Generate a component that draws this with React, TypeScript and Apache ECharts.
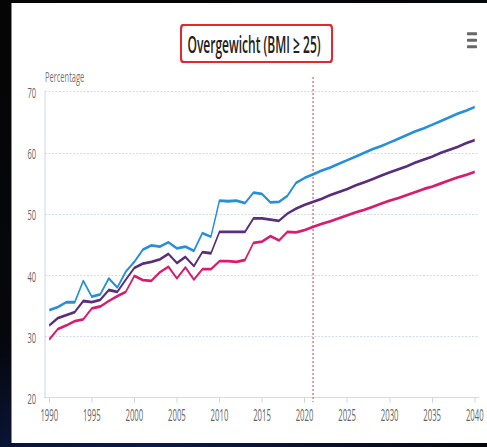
import React, { useEffect, useRef } from "react";
import * as echarts from "echarts";

const years = [
  "1990", "1991", "1992", "1993", "1994", "1995", "1996", "1997", "1998", "1999",
  "2000", "2001", "2002", "2003", "2004", "2005", "2006", "2007", "2008", "2009",
  "2010", "2011", "2012", "2013", "2014", "2015", "2016", "2017", "2018", "2019",
  "2020", "2021", "2022", "2023", "2024", "2025", "2026", "2027", "2028", "2029",
  "2030", "2031", "2032", "2033", "2034", "2035", "2036", "2037", "2038", "2039",
  "2040",
];

const mannen = [
  34.3, 34.8, 35.6, 35.6, 39.1, 36.5, 36.9, 39.5, 38.0, 40.6,
  42.2, 44.2, 44.9, 44.7, 45.4, 44.4, 44.7, 44.0, 46.9, 46.3,
  52.2, 52.1, 52.2, 51.8, 53.5, 53.3, 51.9, 52.0, 53.0, 55.1,
  55.9, 56.5, 57.1, 57.6, 58.2, 58.8, 59.4, 60.0, 60.6, 61.1,
  61.7, 62.3, 62.9, 63.5, 64.0, 64.6, 65.2, 65.8, 66.4, 66.9,
  67.5,
];

const totaal = [
  31.8, 33.0, 33.5, 34.0, 35.8, 35.6, 36.0, 37.6, 37.3, 39.3,
  41.2, 41.9, 42.2, 42.6, 43.5, 42.0, 43.0, 41.5, 43.8, 43.6,
  47.1, 47.1, 47.1, 47.1, 49.3, 49.3, 49.1, 48.9, 50.1, 50.9,
  51.5, 52.0, 52.5, 53.1, 53.6, 54.1, 54.7, 55.2, 55.7, 56.3,
  56.8, 57.3, 57.8, 58.4, 58.9, 59.4, 60.0, 60.5, 61.0, 61.6,
  62.1,
];

const vrouwen = [
  29.5, 31.2, 31.8, 32.5, 32.8, 34.6, 34.9, 35.8, 36.6, 37.3,
  39.9, 39.2, 39.1, 40.5, 41.4, 39.5, 41.3, 39.3, 41.0, 41.0,
  42.3, 42.3, 42.2, 42.5, 45.3, 45.5, 46.4, 45.7, 47.1, 47.0,
  47.4, 47.9, 48.4, 48.8, 49.3, 49.8, 50.3, 50.7, 51.2, 51.7,
  52.2, 52.6, 53.1, 53.6, 54.1, 54.5, 55.0, 55.5, 56.0, 56.4,
  56.9,
];

const yMin = 20;
const yMax = 70;
const yStep = 10;
const titleText = "Overgewicht (BMI ≥ 25)";
const yAxisName = "Percentage";
const splitYear = "2021";

const FONT = "'Open Sans', 'Noto Sans', sans-serif";

export default function App() {
  const ref = useRef<HTMLDivElement>(null);

  useEffect(() => {
    document.body.style.margin = "0";
    const chart = echarts.init(ref.current as HTMLDivElement, null, { renderer: "svg" });
    const axisColor = "#ccd6eb";
    chart.setOption({
      animation: false,
      textStyle: { fontFamily: FONT },
      grid: { left: 90, right: 16, top: 91.7, bottom: 49.3 },
      xAxis: {
        type: "category",
        data: years,
        boundaryGap: true,
        axisLine: { show: true, lineStyle: { color: axisColor, width: 1 } },
        axisTick: {
          show: true,
          interval: 4,
          alignWithLabel: true,
          length: 5,
          lineStyle: { color: axisColor, width: 2 },
        },
        axisLabel: { interval: 4, margin: 10, color: "#666", fontSize: 15.5, fontFamily: FONT },
        splitLine: { show: false },
      },
      yAxis: {
        type: "value",
        min: yMin,
        max: yMax,
        interval: yStep,
        name: yAxisName,
        nameLocation: "end",
        nameGap: 16,
        nameTextStyle: {
          align: "left",
          verticalAlign: "middle",
          color: "#777",
          fontSize: 15,
          fontFamily: FONT,
        },
        axisLine: { show: true, lineStyle: { color: axisColor, width: 2 } },
        axisTick: { show: false },
        axisLabel: { margin: 18, color: "#666", fontSize: 15, fontFamily: FONT },
        splitLine: { show: true, lineStyle: { color: "#c3d1e6", type: [4, 3], width: 1 } },
      },
      graphic: {
        elements: [
          {
            id: "titleBorder",
            type: "rect",
            shape: { x: 360, y: 24, width: 306, height: 39, r: 5 },
            style: { fill: "#e8262d" },
            z: 10,
          },
          {
            id: "titleInner",
            type: "rect",
            shape: { x: 364, y: 26, width: 298, height: 35, r: 4 },
            style: { fill: "#ffffff" },
            z: 11,
          },
          {
            id: "titleText",
            type: "text",
            x: 508,
            y: 44,
            style: {
              text: titleText,
              fill: "#222222",
              font: `600 24px ${FONT}`,
              textAlign: "center",
              textVerticalAlign: "middle",
            },
            z: 12,
          },
          {
            id: "menu1",
            type: "rect",
            shape: { x: 934, y: 32.3, width: 20, height: 3, r: 1 },
            style: { fill: "#666" },
          },
          {
            id: "menu2",
            type: "rect",
            shape: { x: 934, y: 38.8, width: 20, height: 3, r: 1 },
            style: { fill: "#666" },
          },
          {
            id: "menu3",
            type: "rect",
            shape: { x: 934, y: 45.3, width: 20, height: 3, r: 1 },
            style: { fill: "#666" },
          },
        ],
      },
      series: [
        {
          name: "Mannen",
          type: "line",
          data: mannen,
          symbol: "none",
          lineStyle: { color: "#258fd9", width: 2.8 },
          itemStyle: { color: "#258fd9" },
          z: 3,
        },
        {
          name: "Totaal",
          type: "line",
          data: totaal,
          symbol: "none",
          lineStyle: { color: "#5a2e7c", width: 2.8 },
          itemStyle: { color: "#5a2e7c" },
          z: 3,
        },
        {
          name: "Vrouwen",
          type: "line",
          data: vrouwen,
          symbol: "none",
          lineStyle: { color: "#d91c6e", width: 2.8 },
          itemStyle: { color: "#d91c6e" },
          z: 3,
        },
      ],
    });

    const px = chart.convertToPixel({ xAxisIndex: 0 }, splitYear) as number;
    const pyTop = chart.convertToPixel({ yAxisIndex: 0 }, 72.4) as number;
    const pyBottom = chart.convertToPixel({ yAxisIndex: 0 }, 19.3) as number;
    if (isFinite(px) && isFinite(pyTop) && isFinite(pyBottom)) {
      chart.setOption({
        graphic: {
          elements: [
            {
              id: "splitLine",
              type: "line",
              shape: { x1: px, y1: pyTop, x2: px, y2: pyBottom },
              style: { stroke: "#e06a6a", lineWidth: 2.6, lineDash: [2, 2] },
              z: 1,
            },
          ],
        },
      });
    }

    return () => chart.dispose();
  }, []);

  return (
    <div
      style={{
        position: "fixed",
        left: 0,
        top: 0,
        width: 487,
        height: 447,
        overflow: "hidden",
        background: "linear-gradient(160deg, #050505 0%, #06070c 55%, #0c1a4a 80%, #06070c 100%)",
      }}
    >
      <div
        style={{
          position: "absolute",
          left: 11,
          top: 3,
          width: 476,
          height: 440,
          background: "#ffffff",
          borderLeft: "1px solid #8a8a8a",
          boxSizing: "border-box",
        }}
      />
      <div
        ref={ref}
        style={{
          position: "absolute",
          left: 0,
          top: 0,
          width: 974,
          height: 447,
          transform: "scaleX(0.5)",
          transformOrigin: "0 0",
        }}
      />
    </div>
  );
}
